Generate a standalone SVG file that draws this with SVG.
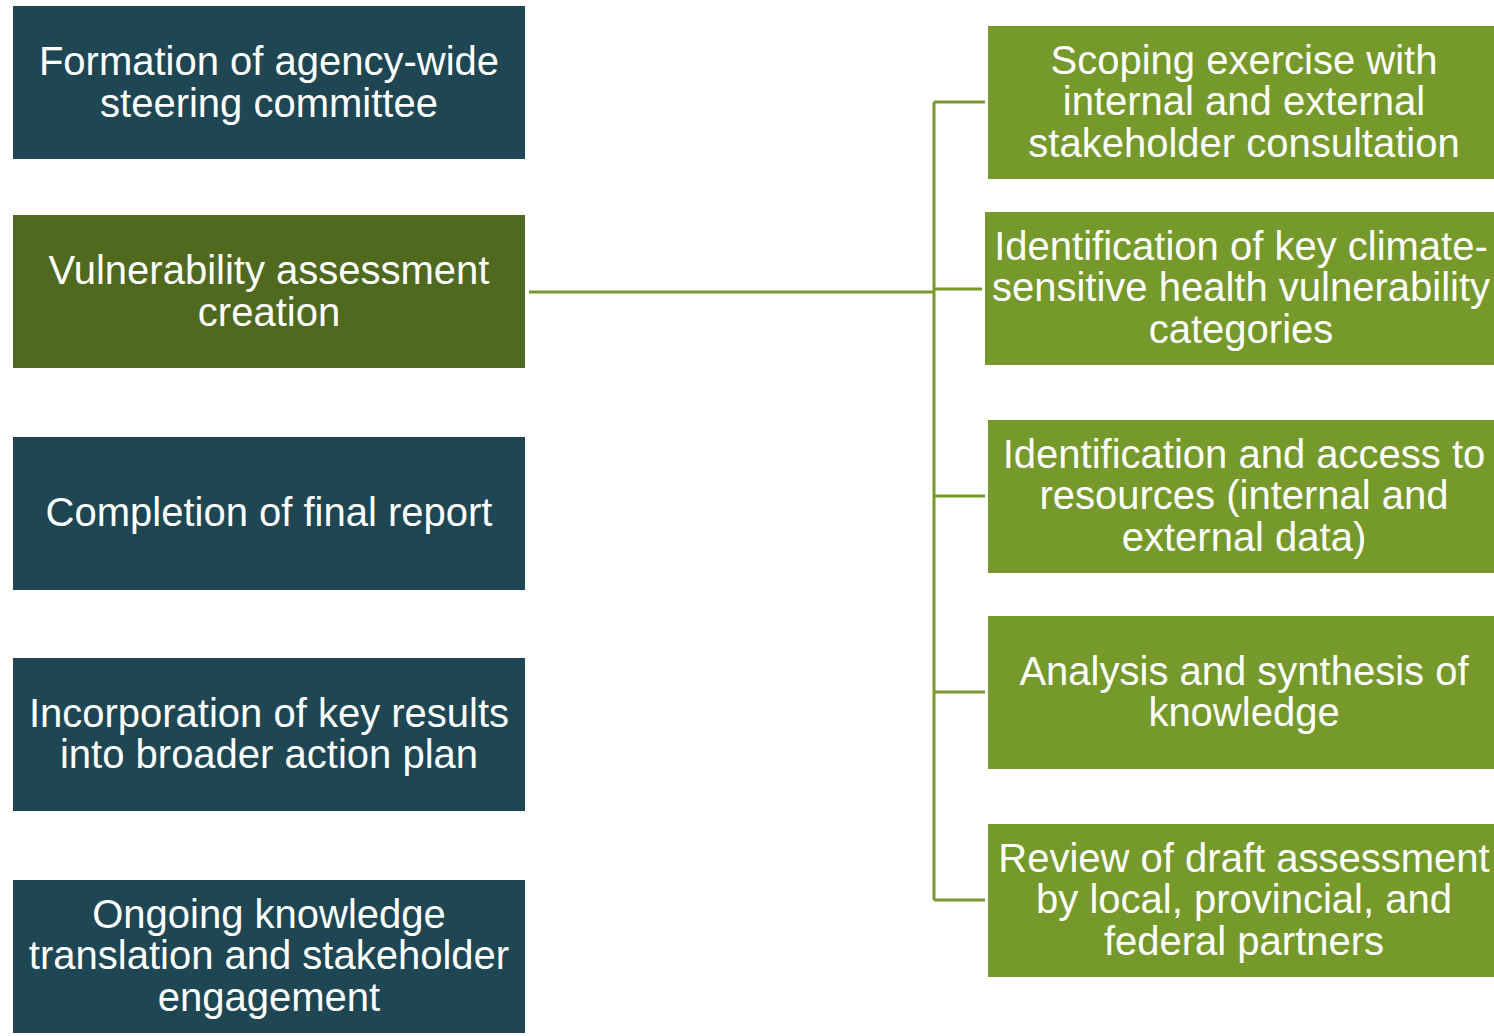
<svg xmlns="http://www.w3.org/2000/svg" width="1494" height="1036" viewBox="0 0 1494 1036">
<style>
.dark{fill:#1E4753}
.olive{fill:#4F691E}
.green{fill:#76992C}
text{fill:#FFFFFF;font-family:"Liberation Sans",Arial,sans-serif;font-size:40px;text-anchor:middle}
.conn{stroke:#76992C;stroke-width:3;fill:none}
</style>
<rect width="1494" height="1036" fill="#FFFFFF"/>
<g id="connectors">
<line class="conn" x1="529" y1="292" x2="934" y2="292"/>
<line class="conn" x1="934" y1="102" x2="934" y2="900"/>
<line class="conn" x1="934" y1="102" x2="985" y2="102"/>
<line class="conn" x1="934" y1="289" x2="982" y2="289"/>
<line class="conn" x1="934" y1="496" x2="985" y2="496"/>
<line class="conn" x1="934" y1="692" x2="985" y2="692"/>
<line class="conn" x1="934" y1="900" x2="985" y2="900"/>
</g>
<g id="n1"><rect class="dark" x="13" y="6" width="512" height="153"/><text x="269" y="75">Formation of agency-wide</text><text x="269" y="117">steering committee</text></g>
<g id="n2"><rect class="olive" x="13" y="215" width="512" height="153"/><text x="269" y="284">Vulnerability assessment</text><text x="269" y="326">creation</text></g>
<g id="n3"><rect class="dark" x="13" y="437" width="512" height="153"/><text x="269" y="526">Completion of final report</text></g>
<g id="n4"><rect class="dark" x="13" y="658" width="512" height="153"/><text x="269" y="727">Incorporation of key results</text><text x="269" y="768">into broader action plan</text></g>
<g id="n5"><rect class="dark" x="13" y="880" width="512" height="153"/><text x="269" y="928">Ongoing knowledge</text><text x="269" y="969">translation and stakeholder</text><text x="269" y="1011">engagement</text></g>
<g id="r1"><rect class="green" x="988" y="26" width="512" height="153"/><text x="1244" y="74">Scoping exercise with</text><text x="1244" y="115">internal and external</text><text x="1244" y="157">stakeholder consultation</text></g>
<g id="r2"><rect class="green" x="985" y="212" width="512" height="153"/><text x="1241" y="260">Identification of key climate-</text><text x="1241" y="301">sensitive health vulnerability</text><text x="1241" y="343">categories</text></g>
<g id="r3"><rect class="green" x="988" y="420" width="512" height="153"/><text x="1244" y="468">Identification and access to</text><text x="1244" y="509">resources (internal and</text><text x="1244" y="551">external data)</text></g>
<g id="r4"><rect class="green" x="988" y="616" width="512" height="153"/><text x="1244" y="685">Analysis and synthesis of</text><text x="1244" y="726">knowledge</text></g>
<g id="r5"><rect class="green" x="988" y="824" width="512" height="153"/><text x="1244" y="872">Review of draft assessment</text><text x="1244" y="913">by local, provincial, and</text><text x="1244" y="955">federal partners</text></g>
</svg>
